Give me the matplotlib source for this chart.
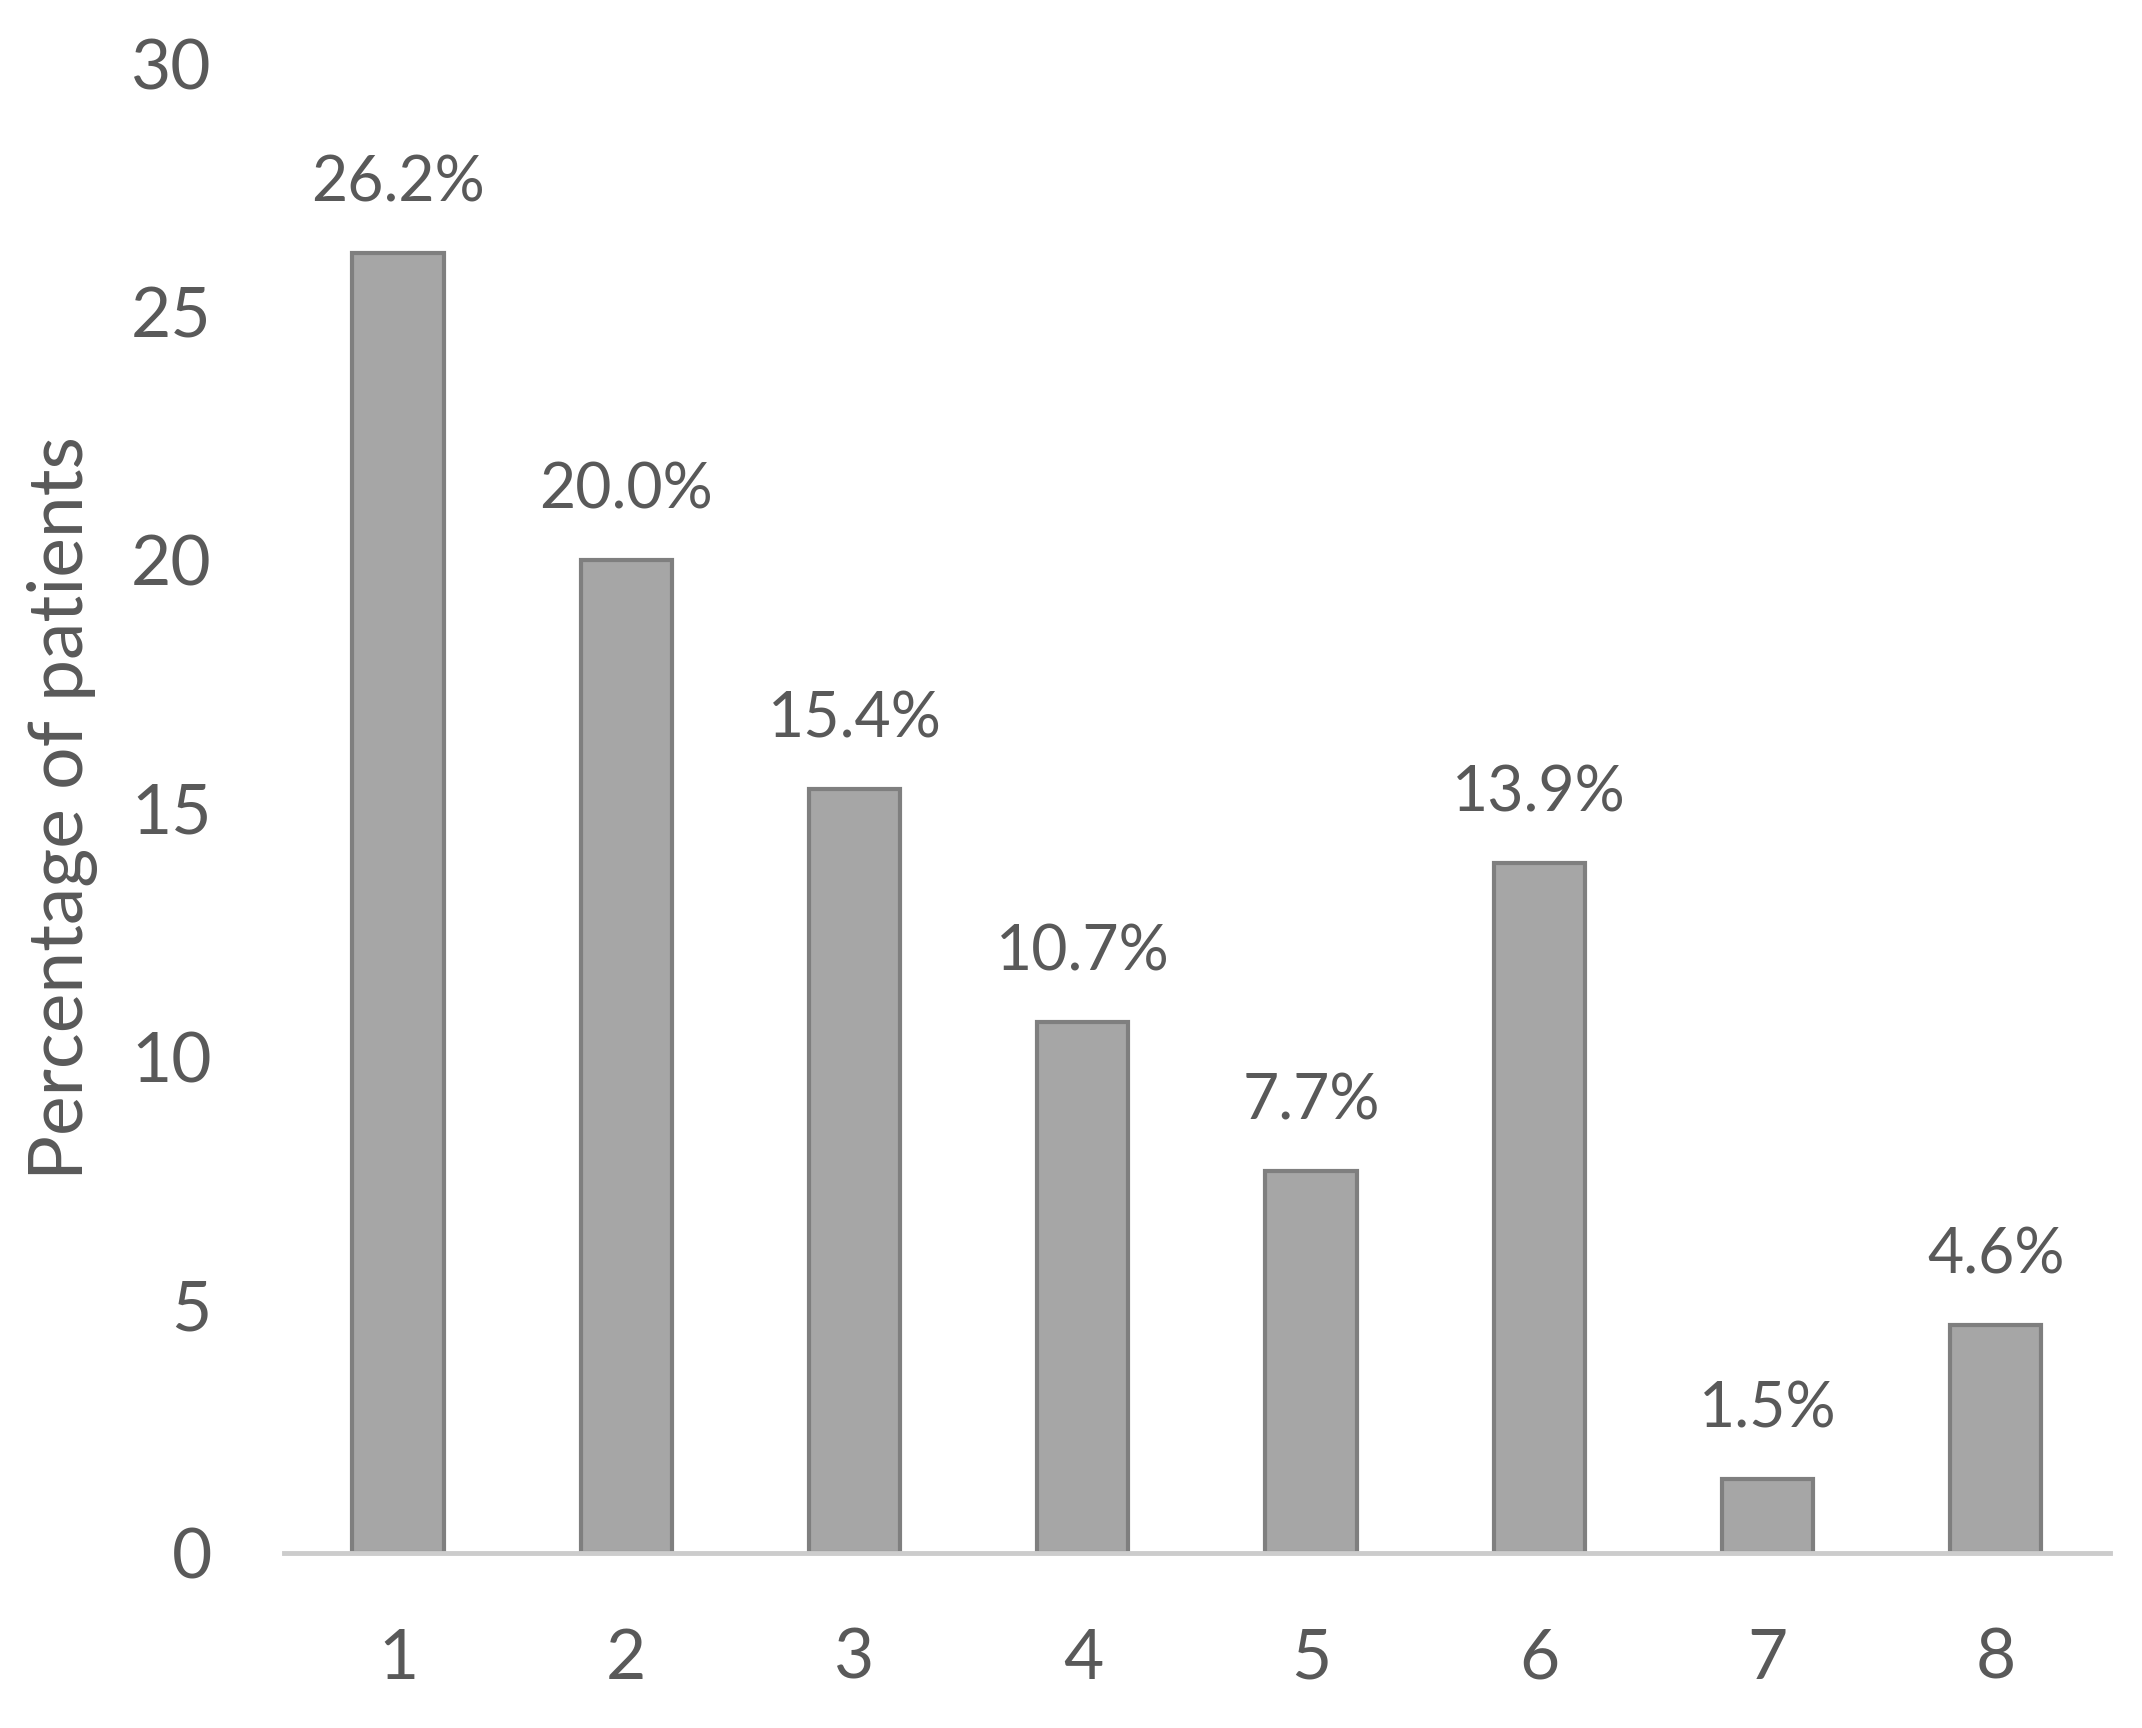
import matplotlib
matplotlib.use("Agg")
import matplotlib.pyplot as plt

# Datos
categorias = [1, 2, 3, 4, 5, 6, 7, 8]
porcentajes = [26.2, 20.0, 15.4, 10.7, 7.7, 13.9, 1.5, 4.6]
yticks = [0, 5, 10, 15, 20, 25, 30]

plt.rcParams["font.family"] = ["Lato", "DejaVu Sans"]
text_color = "#595959"

fig = plt.figure(figsize=(21.42, 17.28), dpi=100)
ax = fig.add_axes([0.1326, 0.1013, 0.8524, 0.8617])

ax.bar(categorias, porcentajes, width=0.4, color="#a6a6a6",
       edgecolor="#7f7f7f", linewidth=3, zorder=2)

for x, v in zip(categorias, porcentajes):
    ax.annotate(f"{v:.1f}%", xy=(x, v), xytext=(0, 50), textcoords="offset points",
                ha="center", va="center", fontsize=45, color=text_color)

ax.set_xlim(0.5, 8.5)
ax.set_ylim(0, 30)
ax.set_xticks(categorias)
ax.set_yticks(yticks)
ax.tick_params(axis="both", length=0, labelsize=50, labelcolor=text_color)
ax.tick_params(axis="y", pad=52)
ax.tick_params(axis="x", pad=54)

for side in ["top", "right", "left"]:
    ax.spines[side].set_visible(False)
ax.spines["bottom"].set_color("#cccccc")
ax.spines["bottom"].set_linewidth(3.5)
ax.spines["bottom"].set_zorder(3)

ax.set_ylabel("Percentage of patients", fontsize=54, color=text_color)
ax.yaxis.set_label_coords(-0.102, 0.5)

fig.savefig("out.png", dpi=100, facecolor="white")
